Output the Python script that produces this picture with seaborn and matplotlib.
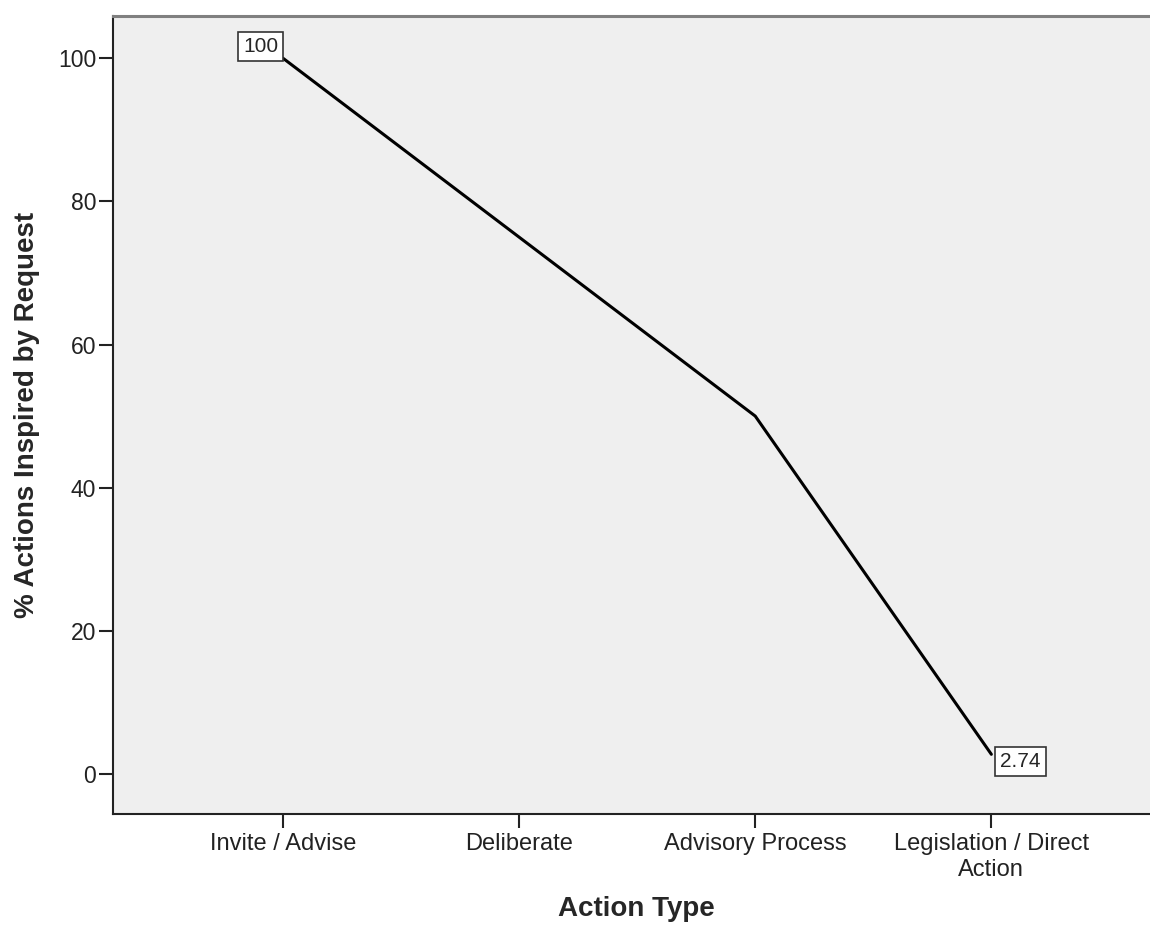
import pandas as pd
import matplotlib.pyplot as plt
import seaborn as sns

action_types = ["Invite / Advise", "Deliberate", "Advisory Process", "Legislation / Direct\nAction"]
pct_inspired = [100, 75, 50, 2.74]
labelled = {0: "100", 3: "2.74"}

df = pd.DataFrame({"Action Type": action_types, "Pct": pct_inspired})

sns.set_style("white")
plt.rcParams["font.family"] = ["Liberation Sans", "DejaVu Sans"]

fig = plt.figure(figsize=(11.5, 9.34), dpi=100)
ax = fig.add_axes([113 / 1150, 1 - 814 / 934, 1046 / 1150, 798 / 934])
ax.set_facecolor("#efefef")

sns.lineplot(data=df, x="Action Type", y="Pct", sort=False, color="black", linewidth=2.2, ax=ax)

ax.set_xlim(-0.72, 3.71)
ax.set_ylim(-5.6, 105.9)
ax.set_yticks([0, 20, 40, 60, 80, 100])

# value boxes at the two ends
ax.annotate(labelled[0], (0, pct_inspired[0]), xytext=(-5, 2), textcoords="offset pixels",
            ha="right", va="bottom", fontsize=15,
            bbox=dict(boxstyle="square,pad=0.25", fc="white", ec="#333333", lw=1.2))
ax.annotate(labelled[3], (3, pct_inspired[3]), xytext=(9, -7), textcoords="offset pixels",
            ha="left", va="center", fontsize=15,
            bbox=dict(boxstyle="square,pad=0.25", fc="white", ec="#333333", lw=1.2))

for side in ["left", "bottom"]:
    ax.spines[side].set_color("#222222")
    ax.spines[side].set_linewidth(1.5)
ax.spines["top"].set_color("#808080")
ax.spines["top"].set_linewidth(2.2)
ax.spines["right"].set_visible(False)

ax.tick_params(axis="both", direction="out", length=10, width=1.5, color="#222222",
               labelcolor="#222222", left=True, bottom=True)
ax.tick_params(axis="x", labelsize=17, pad=4)
ax.tick_params(axis="y", labelsize=16.5, pad=2)

ax.set_xlabel("Action Type", fontsize=20, fontweight="bold", labelpad=11)
ax.set_ylabel("% Actions Inspired by Request", fontsize=20, fontweight="bold", labelpad=13)

fig.savefig("out.png", dpi=100, facecolor="white")
